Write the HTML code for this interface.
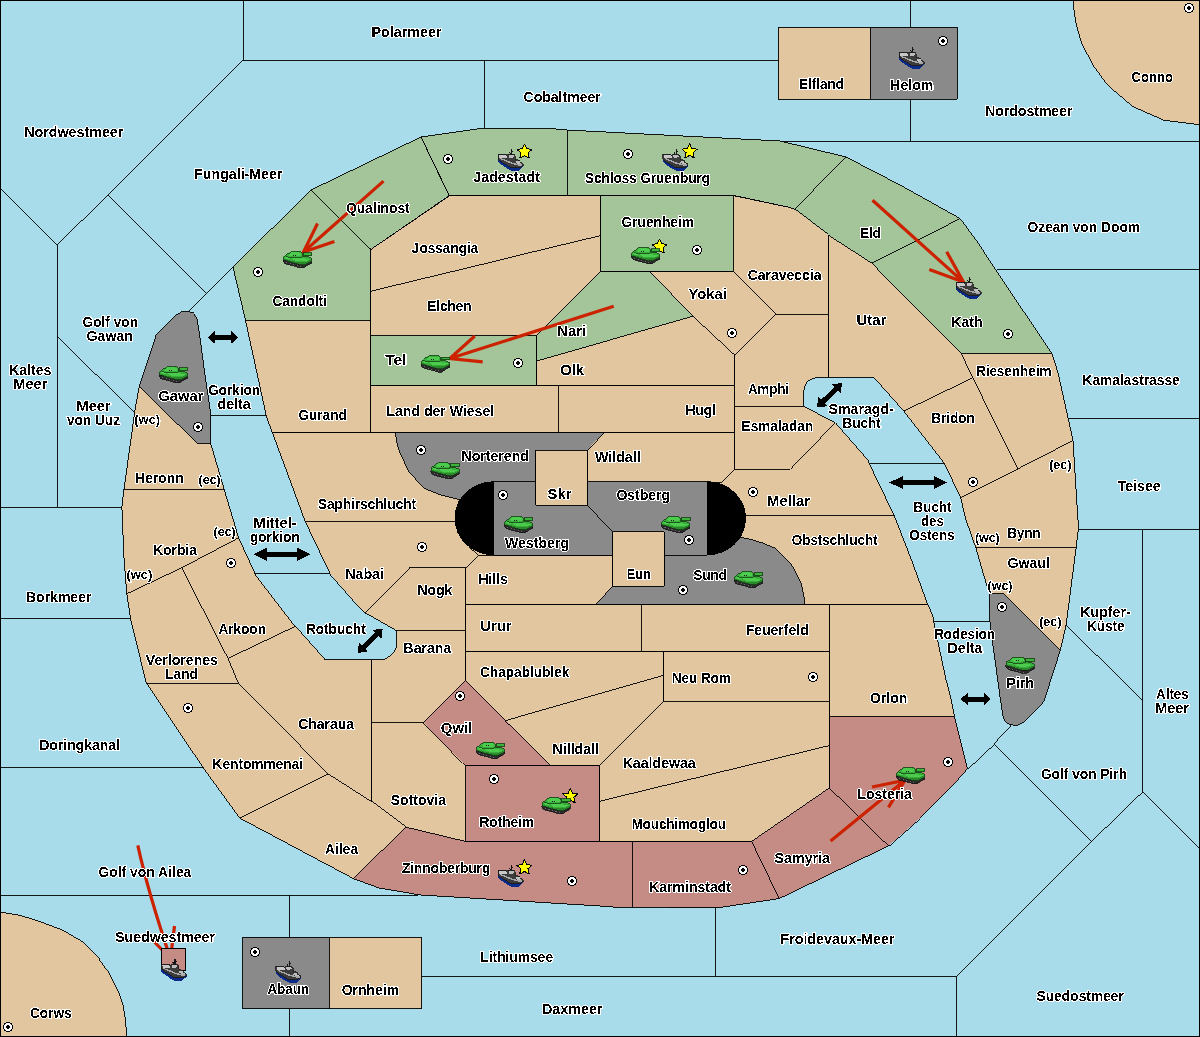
<!DOCTYPE html>
<html><head><meta charset="utf-8"><title>Map</title>
<style>
html,body{margin:0;padding:0;background:#a8dcea;overflow:hidden}
svg{display:block}
.l{stroke:#000;stroke-width:0.9;stroke-linejoin:miter}
.s{fill:none;stroke:#000;stroke-width:0.9}
text{shape-rendering:auto;font-family:"Liberation Sans",sans-serif;font-weight:bold;font-size:13.8px;letter-spacing:0px;fill:#000;stroke:#fff;stroke-width:2px;stroke-linejoin:round;paint-order:stroke;text-anchor:middle}
.cst{font-size:12px}
.t{will-change:transform}
</style></head><body>
<svg width="1200" height="1037" viewBox="0 0 1200 1037" shape-rendering="crispEdges">
<rect x="0" y="0" width="1200" height="1037" fill="#a8dcea"/>

<path class="l" fill="#e2c69f" d="M1073.1,0 L1074.2,12 L1076.3,25 L1081.9,43.9 L1093.8,66.4 L1107.6,85.2 L1132.7,106.5 L1164,120.3 L1199.5,124.7 L1199.5,0 Z"/>
<path class="l" fill="#e2c69f" d="M0,912 L19.1,915.2 L38.2,920.9 L63.6,930.5 L82.7,941.9 L99.3,958.5 L108.2,971.2 L118.4,991.6 L122.8,1004.3 L125.5,1020 L126.7,1036.5 L0,1036.5 Z"/>
<polyline class="s" points="243,0 243,60 778,60"/>
<polyline class="s" points="243,60 108,195 57,245 57,507"/>
<polyline class="s" points="0,188 57,245"/>
<polyline class="s" points="108,195 205.5,292.6"/>
<polyline class="s" points="188.8,311.5 233,267"/>
<polyline class="s" points="57,336 134.5,412.5"/>
<polyline class="s" points="0,507 121.9,507"/>
<polyline class="s" points="0,618.5 130.6,618.5"/>
<polyline class="s" points="0,767.6 203.1,767.6"/>
<polyline class="s" points="0,895 417.8,895"/>
<polyline class="s" points="289.3,895 289.3,1036"/>
<polyline class="s" points="421.6,976.2 956.4,976.2"/>
<polyline class="s" points="715.3,907.8 715.3,976.2"/>
<polyline class="s" points="956.4,976.2 956.4,1036"/>
<polyline class="s" points="956.4,976.2 1091.7,841.4 1142.6,792 1199,848.4"/>
<polyline class="s" points="1091.7,841.4 1026.6,777 994,743.8"/>
<polyline class="s" points="967.5,768.7 994,743.8 1011.1,725.4"/>
<polyline class="s" points="1142.6,792 1142.6,529.5"/>
<polyline class="s" points="1066.1,625 1142.6,700.5"/>
<polyline class="s" points="1078.4,529 1199,529"/>
<polyline class="s" points="1068,418.4 1199,418.4"/>
<polyline class="s" points="996.5,269 1199,269"/>
<polyline class="s" points="780,141 1199,141"/>
<polyline class="s" points="910.5,0 910.5,141"/>
<polyline class="s" points="484.5,60 484.5,128"/>
<polyline class="s" points="210.6,415.4 265.6,415.4"/>
<polyline class="s" points="255,573.5 330,573.5"/>
<polyline class="s" points="933.8,621.5 989.8,621.5"/>
<polyline class="s" points="869,463.2 944.3,463.2"/>
<rect x="396" y="200" width="404" height="640" fill="#e2c69f"/>
<polygon fill="#a4c49a" points="233,267 311,190 370.5,249 370.5,320 245.4,320"/>
<polygon fill="#a4c49a" points="311,190 421,137 449,195 370.5,249"/>
<polygon fill="#a4c49a" points="421,137 484.5,128 556,129 567,130 567,195.5 449,195.5"/>
<polygon fill="#a4c49a" points="567,130 780,141 846,157 794.5,209.3 787.7,207 734,195.5 567,195.5"/>
<polygon fill="#a4c49a" points="846,157 900,185 960.3,218.6 871.6,263 828.2,235 794.5,209.3"/>
<polygon fill="#a4c49a" points="960.3,218.6 980,245.6 989,260 1052,353.6 961.3,353.6 917,309.2 871.6,263"/>
<polygon fill="#a4c49a" points="600.5,195.5 733,195.5 733,271.2 600.5,271.2"/>
<polygon fill="#a4c49a" points="536.6,335 600.5,271.2 649.5,271.2 692.9,316.2 536.6,361.1"/>
<polygon fill="#a4c49a" points="370.5,335 536.6,335 536.6,385 370.5,385"/>
<polygon fill="#e2c69f" points="370.5,249 449,195.5 600.5,195.5 600.5,235.6 370.5,291"/>
<polygon fill="#e2c69f" points="370.5,291 600.5,235.6 600.5,271.2 536.6,335 370.5,335"/>
<polygon fill="#e2c69f" points="733,195.5 787.7,207 794.5,209.3 828.2,235 828.2,314.4 776,314.4 733,271.2"/>
<polygon fill="#e2c69f" points="649.5,271.2 733,271.2 776,314.4 734.6,355 692.9,316.2"/>
<polygon fill="#e2c69f" points="828.2,235 871.6,263 917,309.2 961.3,353.6 972.7,377.8 903.8,411.1 873.9,377.4 828.2,377.4"/>
<polygon fill="#e2c69f" points="734.6,355 776,314.4 828.2,314.4 828.2,377.4 816.9,377.4 812.8,378.7 809,380.4 806.3,383 804.6,386.4 803.7,391.2 803.7,406.4 734.6,406.4"/>
<polygon fill="#e2c69f" points="734.6,406.4 803.7,406.4 835.3,422.7 790.4,469.2 734.6,469.2"/>
<polygon fill="#e2c69f" points="536.6,361.1 692.9,316.2 734.6,355 734.6,385 536.6,385"/>
<polygon fill="#e2c69f" points="558.3,385 734.6,385 734.6,432.5 558.3,432.5"/>
<polygon fill="#e2c69f" points="370.5,385 558.3,385 558.3,432.5 370.5,432.5"/>
<polygon fill="#e2c69f" points="245.4,320 370.5,320 370.5,432.5 272.4,432.7 266.6,417.3"/>
<polygon fill="#e2c69f" points="272.4,432.7 395.4,432.5 397.3,444.3 399.7,452 408.9,472.1 424.4,488.3 439,494.4 459.1,499.5 456,521.3 305.1,521.3 293.6,490"/>
<polygon fill="#8a8a8a" points="395.4,432.5 603.5,432.5 587,450.3 535.5,450.3 535.5,481.7 493.5,481.7 493.5,500 459.1,499.5 439,494.4 424.4,488.3 408.9,472.1 399.7,452 397.3,444.3"/>
<polygon fill="#e2c69f" points="587,450.3 603.5,432.5 734.6,432.5 734.6,469.2 721,482.7 707,481.7 587,481.7"/>
<polygon fill="#e2c69f" points="535.5,450.3 587,450.3 587,505.2 535.5,505.2"/>
<polygon fill="#8a8a8a" points="587,481.7 707,481.7 707,555 664,555 664,531.5 612.6,531.5 587,505.2"/>
<polygon fill="#8a8a8a" points="493.5,481.7 535.5,481.7 535.5,505.2 587,505.2 612.6,531.5 612.6,555 493.5,555"/>
<polygon fill="#e2c69f" points="612.6,531.5 664,531.5 664,586.2 612.6,586.2"/>
<polygon fill="#8a8a8a" points="596.2,604.2 612.6,586.2 664,586.2 664,555 707,555 740.8,537.3 750.4,539.3 760.5,542.3 775.9,548.5 790.6,563.2 796.7,574 801.4,584 804.4,599.4 804.8,604.2"/>
<polygon fill="#e2c69f" points="707,481.7 721,482.7 734.6,469.2 790.4,469.2 835.3,422.7 868.1,460.3 869,463.2 894.1,515.3 746,515.3"/>
<polygon fill="#e2c69f" points="746,515.3 894.1,515.3 911.5,560 927.6,604.2 804.8,604.2 804.4,599.4 801.4,584 796.7,574 790.6,563.2 775.9,548.5 760.5,542.3 750.4,539.3 740.8,537.3"/>
<polygon fill="#e2c69f" points="829.3,604.2 927.6,604.2 932.6,615 933.8,621.5 946.3,680 951.1,699.3 954.4,716.1 829.3,716.1"/>
<polygon fill="#e2c69f" points="641,604.2 829.3,604.2 829.3,651 641,651"/>
<polygon fill="#e2c69f" points="663.5,651 829.3,651 829.3,701.2 663.5,701.2"/>
<polygon fill="#e2c69f" points="465.5,604.2 641,604.2 641,651 465.5,651"/>
<polygon fill="#e2c69f" points="478,555.3 612.6,555 612.6,586.2 596.2,604.2 465.5,604.2 465.5,567.5"/>
<polygon fill="#e2c69f" points="305.1,521.3 456,521.3 470,547.6 478,555.3 465.5,567.5 409,567.5 364.6,612.5 360.3,607.8 330,573.5"/>
<polygon fill="#e2c69f" points="364.6,612.5 409,567.5 465.5,567.5 465.5,630.7 396.7,630.7"/>
<polygon fill="#e2c69f" points="396.7,630.7 465.5,630.7 465.5,680 423.6,722.5 371.5,722.5 371.5,659.5 382.5,659.5 387.3,657.4 391.3,655 394.7,651.3 396.7,645.9"/>
<polygon fill="#e2c69f" points="465.5,651 663.5,651 663.5,675.4 505.8,720.5 465.5,680"/>
<polygon fill="#e2c69f" points="505.8,720.5 663.5,675.4 663.5,701.2 599.3,765.3 549.9,765.3"/>
<polygon fill="#e2c69f" points="663.5,701.2 829.3,701.2 829.3,745.6 599.3,801.3 599.3,765.3"/>
<polygon fill="#e2c69f" points="599.3,801.3 829.3,745.6 829.3,788 751.6,841.4 599.3,841.4"/>
<polygon fill="#c48c84" points="465.5,765.3 599.3,765.3 599.3,841.4 465.5,841.4"/>
<polygon fill="#c48c84" points="465.5,680 505.8,720.5 549.9,765.3 465.5,765.3 423.6,722.5"/>
<polygon fill="#e2c69f" points="371.5,722.5 423.6,722.5 465.5,765.3 465.5,841.4 405.6,827.1 371.5,801.6"/>
<polygon fill="#e2c69f" points="228,658.4 295.5,626.2 325,659.5 371.5,659.5 371.5,801.6 328.1,773.9 283,728.3 238.3,683.1"/>
<polygon fill="#e2c69f" points="126.8,593.8 181.7,567.8 228,658.4 238.3,683.1 146.6,683.1 130.6,618.5"/>
<polygon fill="#e2c69f" points="181.7,567.8 238.6,537.9 255,573.5 295.5,626.2 228,658.4"/>
<polygon fill="#e2c69f" points="123.9,489.2 224.1,489.2 238.6,537.9 181.7,567.8 126.8,593.8 123.9,557.1 121.9,507"/>
<polygon fill="#e2c69f" points="139.3,386.4 197.1,443.3 210.6,443.3 224.1,489.2 123.9,489.2 134.5,412.5"/>
<polygon fill="#8a8a8a" points="182.3,311.5 188.8,311.5 191.5,312.3 194,313.5 195.5,315.5 196.8,318 197.8,322.5 198.8,330 200.3,340 203.9,367.1 210.6,413.4 210.6,443.3 197.1,443.3 139.3,386.4 153.3,344 155.3,336.5 156.3,334.3 176.5,314.3 180,312.3"/>
<polygon fill="#e2c69f" points="146.6,683.1 238.3,683.1 283,728.3 328.1,773.9 239.7,818.1 203.1,767.6"/>
<polygon fill="#e2c69f" points="239.7,818.1 328.1,773.9 371.5,801.6 405.6,827.1 353.6,878.7 247.1,822"/>
<polygon fill="#c48c84" points="405.6,827.1 465.5,841.4 632.6,841.4 632.6,907.3 612.5,907 600,906 417.8,894.8 405,892.3 379,888 353.6,878.7"/>
<polygon fill="#c48c84" points="632.6,841.4 751.6,841.4 779.2,898.6 717.8,907.8 632.6,907.3"/>
<polygon fill="#c48c84" points="751.6,841.4 829.3,788 888.5,845.9 779.2,898.6"/>
<polygon fill="#c48c84" points="829.3,716.1 954.4,716.1 967.5,768.7 953.1,785.1 941.5,796.7 920.3,817.9 888.5,845.9 829.3,788"/>
<polygon fill="#e2c69f" points="961.3,353.6 1052,353.6 1058,372.8 1073,440.5 1018,468.8 972.7,377.8"/>
<polygon fill="#e2c69f" points="903.8,411.1 972.7,377.8 1018,468.8 960.7,497.9 944.3,463.2"/>
<polygon fill="#e2c69f" points="960.7,497.9 1018,468.8 1073,440.5 1078,520 1078.4,528.9 1076.1,547.9 975.9,547.9 966,520"/>
<polygon fill="#e2c69f" points="975.9,547.9 1076.1,547.9 1066.1,625 1060.3,650.4 1003.6,593.7 989.1,593.7"/>
<polygon fill="#8a8a8a" points="989.1,593.7 1003.6,593.7 1060.3,650.4 1049.6,683.5 1043.2,702.3 1023.6,722.2 1017.2,725.4 1010.3,724.8 1006.8,723.1 1004.2,719.9 1003,715.9 1000.1,697.4 992.1,638.9 989.8,620.3"/>
<polygon fill="#e2c69f" points="778,27 870,27 870,99 778,99"/>
<polygon fill="#8a8a8a" points="870,27 957,27 957,99 870,99"/>
<polygon fill="#8a8a8a" points="242.6,937.4 329.3,937.4 329.3,1008.8 242.6,1008.8"/>
<polygon fill="#e2c69f" points="329.3,937.4 421.6,937.4 421.6,1008.8 329.3,1008.8"/>
<path fill="none" stroke="#000" stroke-width="0.9" d="M121.9,507L123.9,489.2 M121.9,507L123.9,557.1 M123.9,489.2L134.5,412.5 M123.9,489.2L224.1,489.2 M123.9,557.1L126.8,593.8 M126.8,593.8L130.6,618.5 M126.8,593.8L181.7,567.8 M130.6,618.5L146.6,683.1 M134.5,412.5L139.3,386.4 M139.3,386.4L153.3,344 M139.3,386.4L197.1,443.3 M146.6,683.1L203.1,767.6 M146.6,683.1L238.3,683.1 M153.3,344L155.3,336.5 M155.3,336.5L156.3,334.3 M156.3,334.3L176.5,314.3 M176.5,314.3L180,312.3 M180,312.3L182.3,311.5 M181.7,567.8L228,658.4 M181.7,567.8L238.6,537.9 M182.3,311.5L188.8,311.5 M188.8,311.5L191.5,312.3 M191.5,312.3L194,313.5 M194,313.5L195.5,315.5 M195.5,315.5L196.8,318 M196.8,318L197.8,322.5 M197.1,443.3L210.6,443.3 M197.8,322.5L198.8,330 M198.8,330L200.3,340 M200.3,340L203.9,367.1 M203.1,767.6L239.7,818.1 M203.9,367.1L210.6,413.4 M210.6,413.4L210.6,443.3 M210.6,443.3L224.1,489.2 M224.1,489.2L238.6,537.9 M228,658.4L238.3,683.1 M228,658.4L295.5,626.2 M233,267L245.4,320 M233,267L311,190 M238.3,683.1L283,728.3 M238.6,537.9L255,573.5 M239.7,818.1L247.1,822 M239.7,818.1L328.1,773.9 M242.6,937.4L242.6,1008.8 M242.6,937.4L329.3,937.4 M242.6,1008.8L329.3,1008.8 M245.4,320L266.6,417.3 M245.4,320L370.5,320 M247.1,822L353.6,878.7 M255,573.5L295.5,626.2 M266.6,417.3L272.4,432.7 M272.4,432.7L293.6,490 M272.4,432.7L370.5,432.5 M272.4,432.7L395.4,432.5 M283,728.3L328.1,773.9 M293.6,490L305.1,521.3 M295.5,626.2L325,659.5 M305.1,521.3L330,573.5 M305.1,521.3L456,521.3 M311,190L370.5,249 M311,190L421,137 M325,659.5L371.5,659.5 M328.1,773.9L371.5,801.6 M329.3,937.4L329.3,1008.8 M329.3,937.4L421.6,937.4 M329.3,1008.8L421.6,1008.8 M330,573.5L360.3,607.8 M353.6,878.7L379,888 M353.6,878.7L405.6,827.1 M360.3,607.8L364.6,612.5 M364.6,612.5L396.7,630.7 M364.6,612.5L409,567.5 M370.5,249L370.5,291 M370.5,249L370.5,320 M370.5,249L449,195 M370.5,249L449,195.5 M370.5,291L370.5,335 M370.5,291L600.5,235.6 M370.5,320L370.5,432.5 M370.5,335L370.5,385 M370.5,335L536.6,335 M370.5,385L370.5,432.5 M370.5,385L536.6,385 M370.5,385L558.3,385 M370.5,432.5L558.3,432.5 M371.5,659.5L371.5,722.5 M371.5,659.5L371.5,801.6 M371.5,659.5L382.5,659.5 M371.5,722.5L371.5,801.6 M371.5,722.5L423.6,722.5 M371.5,801.6L405.6,827.1 M379,888L405,892.3 M382.5,659.5L387.3,657.4 M387.3,657.4L391.3,655 M391.3,655L394.7,651.3 M394.7,651.3L396.7,645.9 M395.4,432.5L397.3,444.3 M395.4,432.5L603.5,432.5 M396.7,630.7L396.7,645.9 M396.7,630.7L465.5,630.7 M397.3,444.3L399.7,452 M399.7,452L408.9,472.1 M405,892.3L417.8,894.8 M405.6,827.1L465.5,841.4 M408.9,472.1L424.4,488.3 M409,567.5L465.5,567.5 M417.8,894.8L600,906 M421,137L449,195 M421,137L449,195.5 M421,137L484.5,128 M421.6,937.4L421.6,1008.8 M423.6,722.5L465.5,680 M423.6,722.5L465.5,765.3 M424.4,488.3L439,494.4 M439,494.4L459.1,499.5 M449,195.5L567,195.5 M449,195.5L600.5,195.5 M456,521.3L459.1,499.5 M456,521.3L470,547.6 M459.1,499.5L493.5,500 M465.5,567.5L465.5,604.2 M465.5,567.5L465.5,630.7 M465.5,567.5L478,555.3 M465.5,604.2L465.5,651 M465.5,604.2L596.2,604.2 M465.5,604.2L641,604.2 M465.5,630.7L465.5,680 M465.5,651L465.5,680 M465.5,651L641,651 M465.5,651L663.5,651 M465.5,680L505.8,720.5 M465.5,765.3L465.5,841.4 M465.5,765.3L549.9,765.3 M465.5,765.3L599.3,765.3 M465.5,841.4L599.3,841.4 M465.5,841.4L632.6,841.4 M470,547.6L478,555.3 M478,555.3L612.6,555 M484.5,128L556,129 M493.5,481.7L493.5,500 M493.5,481.7L493.5,555 M493.5,481.7L535.5,481.7 M493.5,555L612.6,555 M505.8,720.5L549.9,765.3 M505.8,720.5L663.5,675.4 M535.5,450.3L535.5,481.7 M535.5,450.3L535.5,505.2 M535.5,450.3L587,450.3 M535.5,481.7L535.5,505.2 M535.5,505.2L587,505.2 M536.6,335L536.6,361.1 M536.6,335L536.6,385 M536.6,335L600.5,271.2 M536.6,361.1L536.6,385 M536.6,361.1L692.9,316.2 M536.6,385L734.6,385 M549.9,765.3L599.3,765.3 M556,129L567,130 M558.3,385L558.3,432.5 M558.3,385L734.6,385 M558.3,432.5L734.6,432.5 M567,130L567,195.5 M567,130L780,141 M567,195.5L734,195.5 M587,450.3L587,481.7 M587,450.3L587,505.2 M587,450.3L603.5,432.5 M587,481.7L587,505.2 M587,481.7L707,481.7 M587,505.2L612.6,531.5 M596.2,604.2L612.6,586.2 M596.2,604.2L804.8,604.2 M599.3,765.3L599.3,801.3 M599.3,765.3L599.3,841.4 M599.3,765.3L663.5,701.2 M599.3,801.3L599.3,841.4 M599.3,801.3L829.3,745.6 M599.3,841.4L751.6,841.4 M600,906L612.5,907 M600.5,195.5L600.5,235.6 M600.5,195.5L600.5,271.2 M600.5,195.5L733,195.5 M600.5,235.6L600.5,271.2 M600.5,271.2L649.5,271.2 M600.5,271.2L733,271.2 M603.5,432.5L734.6,432.5 M612.5,907L632.6,907.3 M612.6,531.5L612.6,555 M612.6,531.5L612.6,586.2 M612.6,531.5L664,531.5 M612.6,555L612.6,586.2 M612.6,586.2L664,586.2 M632.6,841.4L632.6,907.3 M632.6,841.4L751.6,841.4 M632.6,907.3L717.8,907.8 M641,604.2L641,651 M641,604.2L829.3,604.2 M641,651L829.3,651 M649.5,271.2L692.9,316.2 M649.5,271.2L733,271.2 M663.5,651L663.5,675.4 M663.5,651L663.5,701.2 M663.5,651L829.3,651 M663.5,675.4L663.5,701.2 M663.5,701.2L829.3,701.2 M664,531.5L664,555 M664,531.5L664,586.2 M664,555L664,586.2 M664,555L707,555 M692.9,316.2L734.6,355 M707,481.7L707,555 M707,481.7L721,482.7 M707,481.7L746,515.3 M707,555L740.8,537.3 M717.8,907.8L779.2,898.6 M721,482.7L734.6,469.2 M733,195.5L733,271.2 M733,195.5L787.7,207 M733,271.2L776,314.4 M734,195.5L787.7,207 M734.6,355L734.6,385 M734.6,355L734.6,406.4 M734.6,355L776,314.4 M734.6,385L734.6,432.5 M734.6,406.4L734.6,469.2 M734.6,406.4L803.7,406.4 M734.6,432.5L734.6,469.2 M734.6,469.2L790.4,469.2 M740.8,537.3L746,515.3 M740.8,537.3L750.4,539.3 M746,515.3L894.1,515.3 M750.4,539.3L760.5,542.3 M751.6,841.4L779.2,898.6 M751.6,841.4L829.3,788 M760.5,542.3L775.9,548.5 M775.9,548.5L790.6,563.2 M776,314.4L828.2,314.4 M778,27L778,99 M778,27L870,27 M778,99L870,99 M779.2,898.6L888.5,845.9 M780,141L846,157 M787.7,207L794.5,209.3 M790.4,469.2L835.3,422.7 M790.6,563.2L796.7,574 M794.5,209.3L828.2,235 M794.5,209.3L846,157 M796.7,574L801.4,584 M801.4,584L804.4,599.4 M803.7,391.2L803.7,406.4 M803.7,391.2L804.6,386.4 M803.7,406.4L835.3,422.7 M804.4,599.4L804.8,604.2 M804.6,386.4L806.3,383 M804.8,604.2L927.6,604.2 M806.3,383L809,380.4 M809,380.4L812.8,378.7 M812.8,378.7L816.9,377.4 M816.9,377.4L828.2,377.4 M828.2,235L828.2,314.4 M828.2,235L828.2,377.4 M828.2,235L871.6,263 M828.2,314.4L828.2,377.4 M828.2,377.4L873.9,377.4 M829.3,604.2L829.3,651 M829.3,604.2L829.3,716.1 M829.3,604.2L927.6,604.2 M829.3,651L829.3,701.2 M829.3,701.2L829.3,745.6 M829.3,716.1L829.3,788 M829.3,716.1L954.4,716.1 M829.3,745.6L829.3,788 M829.3,788L888.5,845.9 M835.3,422.7L868.1,460.3 M846,157L900,185 M868.1,460.3L869,463.2 M869,463.2L894.1,515.3 M870,27L870,99 M870,27L957,27 M870,99L957,99 M871.6,263L917,309.2 M871.6,263L960.3,218.6 M873.9,377.4L903.8,411.1 M888.5,845.9L920.3,817.9 M894.1,515.3L911.5,560 M900,185L960.3,218.6 M903.8,411.1L944.3,463.2 M903.8,411.1L972.7,377.8 M911.5,560L927.6,604.2 M917,309.2L961.3,353.6 M920.3,817.9L941.5,796.7 M927.6,604.2L932.6,615 M932.6,615L933.8,621.5 M933.8,621.5L946.3,680 M941.5,796.7L953.1,785.1 M944.3,463.2L960.7,497.9 M946.3,680L951.1,699.3 M951.1,699.3L954.4,716.1 M953.1,785.1L967.5,768.7 M954.4,716.1L967.5,768.7 M957,27L957,99 M960.3,218.6L980,245.6 M960.7,497.9L966,520 M960.7,497.9L1018,468.8 M961.3,353.6L972.7,377.8 M961.3,353.6L1052,353.6 M966,520L975.9,547.9 M972.7,377.8L1018,468.8 M975.9,547.9L989.1,593.7 M975.9,547.9L1076.1,547.9 M980,245.6L989,260 M989,260L1052,353.6 M989.1,593.7L989.8,620.3 M989.1,593.7L1003.6,593.7 M989.8,620.3L992.1,638.9 M992.1,638.9L1000.1,697.4 M1000.1,697.4L1003,715.9 M1003,715.9L1004.2,719.9 M1003.6,593.7L1060.3,650.4 M1004.2,719.9L1006.8,723.1 M1006.8,723.1L1010.3,724.8 M1010.3,724.8L1017.2,725.4 M1017.2,725.4L1023.6,722.2 M1018,468.8L1073,440.5 M1023.6,722.2L1043.2,702.3 M1043.2,702.3L1049.6,683.5 M1049.6,683.5L1060.3,650.4 M1052,353.6L1058,372.8 M1058,372.8L1073,440.5 M1060.3,650.4L1066.1,625 M1066.1,625L1076.1,547.9 M1073,440.5L1078,520 M1076.1,547.9L1078.4,528.9 M1078,520L1078.4,528.9"/>
<path fill="#000" d="M493.5,481.3 A39,37 0 0 0 493.5,555.3 Z"/>
<path fill="#000" d="M707,481.3 A39,37 0 0 1 707,555.3 Z"/>
<rect x="0.5" y="0.5" width="1199" height="1036" fill="none" stroke="#000" stroke-width="1"/>
<defs>
<g id="tank">
<polygon points="0,8.8 3,9.5 6,10.5 9,11.5 13,12.5 17,13.5 22,13.5 28.5,10 28.5,12 24,14.5 21,16.8 17,16.8 13,15.6 9,14.6 5,13.6 2,12.6 0.8,11.2 0,10" fill="#2b2b2b" stroke="#151515" stroke-width="0.8"/>
<polygon points="0.5,5.5 3,4 5.5,2 7.5,0.5 16.5,0.5 19,1.8 19.5,5.2 25,5.7 28.5,7.3 28.5,10 22,13.3 17,13.3 13,12.3 9,11.3 6,10.3 3,9.3 0.5,8.8" fill="#3aae3a" stroke="#174a17" stroke-width="0.9"/>
<polygon points="1,7.8 6,9.2 10,10.2 15,11.2 22,11.2 28,8.8 28,10 22,13 17,13 13,12 9,11 6,10 3,9 1,8.6" fill="#2a872a"/>
<polygon points="7.8,1.4 16,1.4 18.4,2.8 18,4.6 12,5.2 8,5.2 5,4" fill="#4ccc4c"/>
<polygon points="9,7.3 19,7.2 27,8.2 24,9.8 15,10.2 10,9.2" fill="#4ccc4c"/>
<polygon points="1.5,6.2 5,6 7,7.5 3,7.8" fill="#4ccc4c"/>
<polyline points="2.5,5.6 8,6.6 17,6.6 20,5.5" fill="none" stroke="#1f5a1f" stroke-width="1"/>
<rect x="20" y="1.8" width="8.6" height="2.8" fill="#3cb43c" stroke="#123a12" stroke-width="0.8"/>
<g fill="#1a1a1a"><rect x="10" y="3.6" width="1" height="1"/><rect x="12" y="3.6" width="1" height="1"/></g>
<g fill="#6a6a6a"><rect x="3" y="11" width="1.2" height="1"/><rect x="6.5" y="12.3" width="1.2" height="1"/><rect x="10" y="13.4" width="1.2" height="1"/><rect x="13.5" y="14.4" width="1.2" height="1"/><rect x="17" y="15.2" width="1.2" height="1"/></g>
</g>
<g id="ship">
<polygon points="0,9.8 0,12.8 2,14.5 9,19.5 13,21.5 21,21.5 25.2,17.5 25.2,15.5 21,18.5 13,18.5 3,12" fill="#0a2a8c"/>
<polygon points="0,5 0,10 3,12.5 13,18.8 21,19 25.2,16.5 25,15 22,13 21.8,11.5 18.4,10.6 17.3,10 17.3,6.6 15.5,5.4 10.3,5 9.2,6.4 7.7,5" fill="#3c3c3c" stroke="#161616" stroke-width="0.8"/>
<polygon points="1,6 7.5,6 9,7.5 9,9 5,9.5 1.5,8.5" fill="#c8c8c8"/>
<polygon points="10.5,6 15,6 16.5,7 14,9 11,9.5" fill="#bdbdbd"/>
<polygon points="2,10 8,12.5 14,15 20,16.5 24,16.5 24,15.5 20,15 14,13.5 8,11 2,8.8" fill="#a8a8a8"/>
<polygon points="18.5,11.5 21.5,12 21.5,13.5 24,15 20,15 17.5,13.5" fill="#c0c0c0"/>
<line x1="13.5" y1="0" x2="13.5" y2="5" stroke="#161616" stroke-width="1.2"/>
<line x1="13.5" y1="2.5" x2="15.3" y2="2.5" stroke="#161616" stroke-width="1"/>
<line x1="11.2" y1="3" x2="12.5" y2="5" stroke="#161616" stroke-width="1"/>
</g>
<g id="sc"><circle cx="0" cy="0" r="4.5" fill="#fff" stroke="#000" stroke-width="1"/><path d="M-1,-2h2v1h1v2h-1v1h-2v-1h-1v-2h1z" fill="#000"/></g>
<polygon id="dbl" points="0,0 7,-6.5 7,-2.5 23,-2.5 23,-6.5 30,0 23,6.5 23,2.5 7,2.5 7,6.5" fill="#000"/>
</defs>
<use href="#sc" x="448" y="159"/>
<use href="#sc" x="628" y="154"/>
<use href="#sc" x="697" y="250"/>
<use href="#sc" x="943" y="41"/>
<use href="#sc" x="1189" y="8"/>
<use href="#sc" x="258" y="272"/>
<use href="#sc" x="198" y="427"/>
<use href="#sc" x="518" y="363"/>
<use href="#sc" x="421" y="450"/>
<use href="#sc" x="503" y="495"/>
<use href="#sc" x="732" y="333"/>
<use href="#sc" x="753" y="492"/>
<use href="#sc" x="1008" y="334"/>
<use href="#sc" x="973" y="482"/>
<use href="#sc" x="231" y="563"/>
<use href="#sc" x="188" y="708"/>
<use href="#sc" x="422" y="547"/>
<use href="#sc" x="460" y="696"/>
<use href="#sc" x="494" y="779"/>
<use href="#sc" x="689" y="540"/>
<use href="#sc" x="683" y="590"/>
<use href="#sc" x="813" y="677"/>
<use href="#sc" x="1002" y="607"/>
<use href="#sc" x="948" y="762"/>
<use href="#sc" x="255" y="952"/>
<use href="#sc" x="8" y="1027"/>
<use href="#sc" x="572" y="881"/>
<use href="#sc" x="743" y="870"/>
<polygon points="524.5,143.7 526.7,148.8 532.2,149.3 528.0,152.9 529.3,158.4 524.5,155.5 519.7,158.4 521.0,152.9 516.8,149.3 522.3,148.8" fill="#ffff00" stroke="#000" stroke-width="1" stroke-miterlimit="1.5"/>
<polygon points="689.6,143.5 691.8,148.6 697.3,149.1 693.1,152.7 694.4,158.2 689.6,155.3 684.8,158.2 686.1,152.7 681.9,149.1 687.4,148.6" fill="#ffff00" stroke="#000" stroke-width="1" stroke-miterlimit="1.5"/>
<polygon points="659.5,238.7 661.7,243.8 667.2,244.3 663.0,247.9 664.3,253.4 659.5,250.5 654.7,253.4 656.0,247.9 651.8,244.3 657.3,243.8" fill="#ffff00" stroke="#000" stroke-width="1" stroke-miterlimit="1.5"/>
<polygon points="570.3,788.2 572.5,793.3 578.0,793.8 573.8,797.4 575.1,802.9 570.3,800.0 565.5,802.9 566.8,797.4 562.6,793.8 568.1,793.3" fill="#ffff00" stroke="#000" stroke-width="1" stroke-miterlimit="1.5"/>
<polygon points="524.4,859.6 526.6,864.7 532.1,865.2 527.9,868.8 529.2,874.3 524.4,871.4 519.6,874.3 520.9,868.8 516.7,865.2 522.2,864.7" fill="#ffff00" stroke="#000" stroke-width="1" stroke-miterlimit="1.5"/>
<use href="#dbl" transform="translate(207.9,337.4) rotate(0.0) scale(1.007,1)"/>
<use href="#dbl" transform="translate(253.1,554.3) rotate(0.0) scale(1.927,1)"/>
<use href="#dbl" transform="translate(357.6,652.8) rotate(-43.5) scale(1.153,1)"/>
<use href="#dbl" transform="translate(817,407.3) rotate(-44.1) scale(1.160,1)"/>
<use href="#dbl" transform="translate(889.3,482.5) rotate(0.0) scale(1.930,1)"/>
<use href="#dbl" transform="translate(960.8,699) rotate(0.0) scale(1.003,1)"/>
<path d="M383.5,181.1 L303.5,252 M317.5,223.5 L303.5,252 L334.4,241.4" fill="none" stroke="#cc2200" stroke-width="3.2" stroke-linecap="butt" stroke-linejoin="miter" shape-rendering="auto"/>
<path d="M613.7,306.3 L449.8,358.5 M474.8,336 L449.8,358.5 L482.7,361.8" fill="none" stroke="#cc2200" stroke-width="3.2" stroke-linecap="butt" stroke-linejoin="miter" shape-rendering="auto"/>
<path d="M872.5,200.3 L963.5,282.1 M946.7,251.8 L963.5,282.1 L929.3,269.6" fill="none" stroke="#cc2200" stroke-width="3.2" stroke-linecap="butt" stroke-linejoin="miter" shape-rendering="auto"/>
<path d="M830.6,841 L904.9,780.3 M872,787 L904.9,780.3 L888.5,807.3" fill="none" stroke="#cc2200" stroke-width="3.2" stroke-linecap="butt" stroke-linejoin="miter" shape-rendering="auto"/>
<path d="M137.8,845.4 Q148.4,893.5 170.5,958.5 M174.5,926 L170.5,958.5 L151.5,939" fill="none" stroke="#cc2200" stroke-width="3.2" stroke-linecap="butt" stroke-linejoin="miter" shape-rendering="auto"/>
<rect x="161.5" y="948.5" width="24" height="21.5" fill="#c48c84" stroke="#000" stroke-width="1"/>
<use href="#tank" x="283" y="251"/>
<use href="#tank" x="631.3" y="247"/>
<use href="#tank" x="159" y="366"/>
<use href="#tank" x="421" y="355.2"/>
<use href="#tank" x="430.8" y="462"/>
<use href="#tank" x="504.3" y="516"/>
<use href="#tank" x="661.4" y="516"/>
<use href="#tank" x="734" y="571"/>
<use href="#tank" x="1005.8" y="656.6"/>
<use href="#tank" x="476.2" y="741.8"/>
<use href="#tank" x="541.9" y="797"/>
<use href="#tank" x="896.2" y="767"/>
<use href="#ship" x="498" y="149"/>
<use href="#ship" x="662.7" y="149"/>
<use href="#ship" x="899" y="47"/>
<use href="#ship" x="956" y="277"/>
<use href="#ship" x="498" y="865"/>
<use href="#ship" x="275.7" y="961"/>
<use href="#ship" x="161.4" y="959"/>
<filter id="crisp" x="-2%" y="-2%" width="104%" height="104%" color-interpolation-filters="sRGB"><feComponentTransfer><feFuncR type="discrete" tableValues="0 1"/><feFuncG type="discrete" tableValues="0 1"/><feFuncB type="discrete" tableValues="0 1"/><feFuncA type="discrete" tableValues="0 1"/></feComponentTransfer></filter>
<g class="t" filter="url(#crisp)">
<text x="406.5" y="37" textLength="70.2" lengthAdjust="spacingAndGlyphs">Polarmeer</text>
<text x="562.1" y="102" textLength="77.2" lengthAdjust="spacingAndGlyphs">Cobaltmeer</text>
<text x="821.4" y="89" textLength="45.0" lengthAdjust="spacingAndGlyphs">Elfland</text>
<text x="911.8" y="90" textLength="43.2" lengthAdjust="spacingAndGlyphs">Helom</text>
<text x="1152.2" y="82" textLength="41.5" lengthAdjust="spacingAndGlyphs">Conno</text>
<text x="1028.8" y="116" textLength="87.2" lengthAdjust="spacingAndGlyphs">Nordostmeer</text>
<text x="73.8" y="137" textLength="99.2" lengthAdjust="spacingAndGlyphs">Nordwestmeer</text>
<text x="238.3" y="179" textLength="88.2" lengthAdjust="spacingAndGlyphs">Fungali-Meer</text>
<text x="506.6" y="182" textLength="66.8" lengthAdjust="spacingAndGlyphs">Jadestadt</text>
<text x="647.5" y="183" textLength="125.1" lengthAdjust="spacingAndGlyphs">Schloss Gruenburg</text>
<text x="377.8" y="213" textLength="63.8" lengthAdjust="spacingAndGlyphs">Qualinost</text>
<text x="657.8" y="227" textLength="72.5" lengthAdjust="spacingAndGlyphs">Gruenheim</text>
<text x="870.6" y="238" textLength="20.8" lengthAdjust="spacingAndGlyphs">Eld</text>
<text x="1083.8" y="232" textLength="112.5" lengthAdjust="spacingAndGlyphs">Ozean von Doom</text>
<text x="445.1" y="253" textLength="66.5" lengthAdjust="spacingAndGlyphs">Jossangia</text>
<text x="784.6" y="280" textLength="73.7" lengthAdjust="spacingAndGlyphs">Caraveccia</text>
<text x="707.6" y="299" textLength="38.2" lengthAdjust="spacingAndGlyphs">Yokai</text>
<text x="299.6" y="306" textLength="54.2" lengthAdjust="spacingAndGlyphs">Candolti</text>
<text x="449.4" y="311" textLength="43.9" lengthAdjust="spacingAndGlyphs">Elchen</text>
<text x="110.3" y="327" textLength="55.5" lengthAdjust="spacingAndGlyphs">Golf von</text>
<text x="109.8" y="341" textLength="46.5" lengthAdjust="spacingAndGlyphs">Gawan</text>
<text x="967.0" y="327" textLength="30.9" lengthAdjust="spacingAndGlyphs">Kath</text>
<text x="871.5" y="325" textLength="29.9" lengthAdjust="spacingAndGlyphs">Utar</text>
<text x="571.7" y="336" textLength="29.5" lengthAdjust="spacingAndGlyphs">Nari</text>
<text x="395.9" y="365" textLength="21.5" lengthAdjust="spacingAndGlyphs">Tel</text>
<text x="572.1" y="375" textLength="23.8" lengthAdjust="spacingAndGlyphs">Olk</text>
<text x="30.3" y="375" textLength="42.2" lengthAdjust="spacingAndGlyphs">Kaltes</text>
<text x="30.3" y="389" textLength="34.2" lengthAdjust="spacingAndGlyphs">Meer</text>
<text x="1013.7" y="376" textLength="75.5" lengthAdjust="spacingAndGlyphs">Riesenheim</text>
<text x="1131.1" y="385" textLength="97.2" lengthAdjust="spacingAndGlyphs">Kamalastrasse</text>
<text x="768.5" y="394" textLength="41.2" lengthAdjust="spacingAndGlyphs">Amphi</text>
<text x="180.9" y="401" textLength="44.9" lengthAdjust="spacingAndGlyphs">Gawar</text>
<text x="234.1" y="395" textLength="51.8" lengthAdjust="spacingAndGlyphs">Gorkion</text>
<text x="234.1" y="409" textLength="33.2" lengthAdjust="spacingAndGlyphs">delta</text>
<text x="93.6" y="411" textLength="34.2" lengthAdjust="spacingAndGlyphs">Meer</text>
<text x="93.5" y="425" textLength="53.1" lengthAdjust="spacingAndGlyphs">von Uuz</text>
<text x="861.2" y="414" textLength="65.5" lengthAdjust="spacingAndGlyphs">Smaragd-</text>
<text x="861.6" y="428" textLength="38.2" lengthAdjust="spacingAndGlyphs">Bucht</text>
<text x="322.6" y="420" textLength="48.2" lengthAdjust="spacingAndGlyphs">Gurand</text>
<text x="440.3" y="416" textLength="107.8" lengthAdjust="spacingAndGlyphs">Land der Wiesel</text>
<text x="700.8" y="415" textLength="30.6" lengthAdjust="spacingAndGlyphs">Hugl</text>
<text x="953.1" y="423" textLength="43.2" lengthAdjust="spacingAndGlyphs">Bridon</text>
<text class="cst" x="147.1" y="424" textLength="25.8" lengthAdjust="spacingAndGlyphs">(wc)</text>
<text x="777.4" y="431" textLength="71.6" lengthAdjust="spacingAndGlyphs">Esmaladan</text>
<text x="495.2" y="461" textLength="67.5" lengthAdjust="spacingAndGlyphs">Norterend</text>
<text x="617.8" y="462" textLength="45.8" lengthAdjust="spacingAndGlyphs">Wildall</text>
<text x="159.4" y="483" textLength="48.5" lengthAdjust="spacingAndGlyphs">Heronn</text>
<text class="cst" x="209.6" y="484" textLength="22.2" lengthAdjust="spacingAndGlyphs">(ec)</text>
<text class="cst" x="1060.3" y="469" textLength="22.2" lengthAdjust="spacingAndGlyphs">(ec)</text>
<text x="1139.1" y="491" textLength="43.2" lengthAdjust="spacingAndGlyphs">Teisee</text>
<text x="559.5" y="499" textLength="23.9" lengthAdjust="spacingAndGlyphs">Skr</text>
<text x="643.2" y="500" textLength="53.5" lengthAdjust="spacingAndGlyphs">Ostberg</text>
<text x="788.5" y="506" textLength="43.0" lengthAdjust="spacingAndGlyphs">Mellar</text>
<text x="367.0" y="509" textLength="98.0" lengthAdjust="spacingAndGlyphs">Saphirschlucht</text>
<text x="932.5" y="512" textLength="37.9" lengthAdjust="spacingAndGlyphs">Bucht</text>
<text x="932.5" y="526" textLength="23.1" lengthAdjust="spacingAndGlyphs">des</text>
<text x="932.0" y="540" textLength="45.5" lengthAdjust="spacingAndGlyphs">Ostens</text>
<text x="274.9" y="528" textLength="43.5" lengthAdjust="spacingAndGlyphs">Mittel-</text>
<text x="274.8" y="542" textLength="49.8" lengthAdjust="spacingAndGlyphs">gorkion</text>
<text class="cst" x="224.6" y="536" textLength="22.2" lengthAdjust="spacingAndGlyphs">(ec)</text>
<text x="537.0" y="548" textLength="64.1" lengthAdjust="spacingAndGlyphs">Westberg</text>
<text x="834.7" y="545" textLength="86.0" lengthAdjust="spacingAndGlyphs">Obstschlucht</text>
<text x="1024.1" y="538" textLength="33.2" lengthAdjust="spacingAndGlyphs">Bynn</text>
<text class="cst" x="987.3" y="542" textLength="24.8" lengthAdjust="spacingAndGlyphs">(wc)</text>
<text x="175.1" y="555" textLength="43.8" lengthAdjust="spacingAndGlyphs">Korbia</text>
<text x="1028.8" y="568" textLength="42.5" lengthAdjust="spacingAndGlyphs">Gwaul</text>
<text x="364.6" y="579" textLength="38.8" lengthAdjust="spacingAndGlyphs">Nabai</text>
<text x="493.2" y="584" textLength="29.5" lengthAdjust="spacingAndGlyphs">Hills</text>
<text x="638.7" y="579" textLength="24.1" lengthAdjust="spacingAndGlyphs">Eun</text>
<text x="710.2" y="580" textLength="33.6" lengthAdjust="spacingAndGlyphs">Sund</text>
<text class="cst" x="139.4" y="579" textLength="25.9" lengthAdjust="spacingAndGlyphs">(wc)</text>
<text class="cst" x="1000.0" y="590" textLength="24.9" lengthAdjust="spacingAndGlyphs">(wc)</text>
<text x="434.9" y="595" textLength="34.9" lengthAdjust="spacingAndGlyphs">Nogk</text>
<text x="58.7" y="602" textLength="65.5" lengthAdjust="spacingAndGlyphs">Borkmeer</text>
<text x="1105.5" y="617" textLength="50.5" lengthAdjust="spacingAndGlyphs">Kupfer-</text>
<text x="1105.8" y="631" textLength="37.8" lengthAdjust="spacingAndGlyphs">Küste</text>
<text class="cst" x="1050.3" y="626" textLength="22.2" lengthAdjust="spacingAndGlyphs">(ec)</text>
<text x="495.9" y="631" textLength="31.5" lengthAdjust="spacingAndGlyphs">Urur</text>
<text x="777.2" y="635" textLength="63.0" lengthAdjust="spacingAndGlyphs">Feuerfeld</text>
<text x="242.2" y="634" textLength="47.5" lengthAdjust="spacingAndGlyphs">Arkoon</text>
<text x="335.8" y="634" textLength="59.8" lengthAdjust="spacingAndGlyphs">Rotbucht</text>
<text x="964.6" y="639" textLength="60.8" lengthAdjust="spacingAndGlyphs">Rodesion</text>
<text x="965.0" y="653" textLength="34.9" lengthAdjust="spacingAndGlyphs">Delta</text>
<text x="427.4" y="653" textLength="47.9" lengthAdjust="spacingAndGlyphs">Barana</text>
<text x="181.9" y="665" textLength="72.1" lengthAdjust="spacingAndGlyphs">Verlorenes</text>
<text x="181.6" y="679" textLength="32.8" lengthAdjust="spacingAndGlyphs">Land</text>
<text x="524.7" y="677" textLength="89.5" lengthAdjust="spacingAndGlyphs">Chapablublek</text>
<text x="701.3" y="683" textLength="59.2" lengthAdjust="spacingAndGlyphs">Neu Rom</text>
<text x="1020.2" y="688" textLength="27.5" lengthAdjust="spacingAndGlyphs">Pirh</text>
<text x="1172.4" y="699" textLength="32.7" lengthAdjust="spacingAndGlyphs">Altes</text>
<text x="1172.1" y="713" textLength="33.8" lengthAdjust="spacingAndGlyphs">Meer</text>
<text x="888.7" y="703" textLength="37.5" lengthAdjust="spacingAndGlyphs">Orlon</text>
<text x="326.1" y="729" textLength="55.8" lengthAdjust="spacingAndGlyphs">Charaua</text>
<text x="456.6" y="733" textLength="31.5" lengthAdjust="spacingAndGlyphs">Qwil</text>
<text x="79.6" y="750" textLength="80.8" lengthAdjust="spacingAndGlyphs">Doringkanal</text>
<text x="575.8" y="754" textLength="46.5" lengthAdjust="spacingAndGlyphs">Nilldall</text>
<text x="659.2" y="768" textLength="73.1" lengthAdjust="spacingAndGlyphs">Kaaldewaa</text>
<text x="257.8" y="769" textLength="90.5" lengthAdjust="spacingAndGlyphs">Kentommenai</text>
<text x="1084.0" y="779" textLength="86.2" lengthAdjust="spacingAndGlyphs">Golf von Pirh</text>
<text x="884.6" y="799" textLength="54.2" lengthAdjust="spacingAndGlyphs">Losteria</text>
<text x="418.4" y="805" textLength="55.5" lengthAdjust="spacingAndGlyphs">Sottovia</text>
<text x="506.8" y="827" textLength="54.7" lengthAdjust="spacingAndGlyphs">Rotheim</text>
<text x="678.8" y="829" textLength="94.2" lengthAdjust="spacingAndGlyphs">Mouchimoglou</text>
<text x="341.6" y="854" textLength="33.2" lengthAdjust="spacingAndGlyphs">Ailea</text>
<text x="802.3" y="863" textLength="55.4" lengthAdjust="spacingAndGlyphs">Samyria</text>
<text x="446.1" y="873" textLength="88.2" lengthAdjust="spacingAndGlyphs">Zinnoberburg</text>
<text x="144.9" y="877" textLength="92.9" lengthAdjust="spacingAndGlyphs">Golf von Ailea</text>
<text x="690.1" y="892" textLength="81.7" lengthAdjust="spacingAndGlyphs">Karminstadt</text>
<text x="165.1" y="942" textLength="99.8" lengthAdjust="spacingAndGlyphs">Suedwestmeer</text>
<text x="837.5" y="944" textLength="114.1" lengthAdjust="spacingAndGlyphs">Froidevaux-Meer</text>
<text x="516.7" y="962" textLength="72.8" lengthAdjust="spacingAndGlyphs">Lithiumsee</text>
<text x="288.2" y="994" textLength="41.5" lengthAdjust="spacingAndGlyphs">Abaun</text>
<text x="370.4" y="995" textLength="57.5" lengthAdjust="spacingAndGlyphs">Ornheim</text>
<text x="1080.2" y="1001" textLength="87.5" lengthAdjust="spacingAndGlyphs">Suedostmeer</text>
<text x="572.2" y="1014" textLength="60.5" lengthAdjust="spacingAndGlyphs">Daxmeer</text>
<text x="50.8" y="1018" textLength="41.8" lengthAdjust="spacingAndGlyphs">Corws</text>
</g>
</svg></body></html>
